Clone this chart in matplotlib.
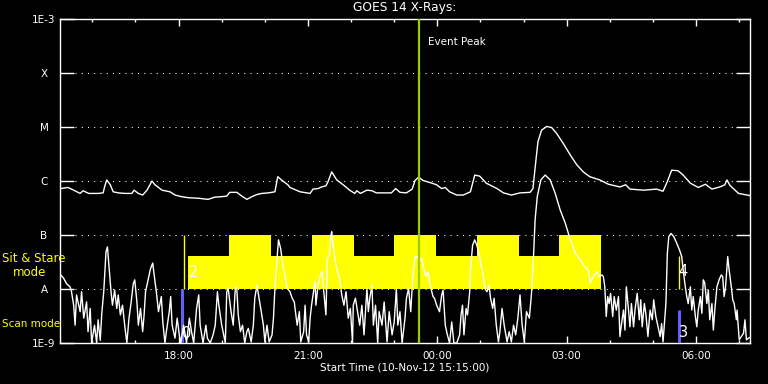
import numpy as np
import matplotlib.pyplot as plt
from matplotlib.ticker import NullLocator

# time axis: minutes after start (10-Nov-12 15:15:00); flux values as log10(W/m^2)
long_t = [1, 11, 16, 28, 32, 40, 53, 60, 62, 65,
          70, 74, 81, 91, 100, 103, 109, 115, 121, 128,
          132, 142, 153, 160, 169, 179, 193, 206, 215, 225,
          232, 236, 246, 253, 260, 267, 274, 281, 290, 299,
          303, 308, 317, 320, 334, 348, 352, 359, 364, 370,
          373, 378, 385, 394, 403, 410, 413, 418, 427, 434,
          440, 450, 461, 467, 473, 482, 490, 494, 499, 505,
          515, 524, 531, 536, 542, 552, 561, 571, 577, 584,
          593, 608, 617, 628, 640, 654, 658, 661, 665, 670,
          677, 684, 691, 700, 710, 719, 728, 737, 751, 763,
          779, 787, 793, 812, 830, 839, 845, 851, 860, 867,
          877, 888, 898, 907, 918, 925, 928, 932, 944, 960]
long_f = [-6.14, -6.12, -6.15, -6.23, -6.18, -6.23, -6.23, -6.22, -6.11, -5.98,
          -6.07, -6.20, -6.22, -6.23, -6.23, -6.17, -6.23, -6.26, -6.17, -6.00,
          -6.07, -6.17, -6.20, -6.26, -6.29, -6.31, -6.32, -6.34, -6.30, -6.29,
          -6.28, -6.21, -6.21, -6.28, -6.34, -6.29, -6.25, -6.23, -6.22, -6.20,
          -5.92, -5.98, -6.07, -6.12, -6.20, -6.23, -6.15, -6.14, -6.11, -6.09,
          -6.01, -5.83, -5.98, -6.07, -6.17, -6.23, -6.18, -6.23, -6.17, -6.18,
          -6.22, -6.22, -6.22, -6.14, -6.21, -6.22, -6.15, -5.99, -5.93, -5.99,
          -6.03, -6.07, -6.14, -6.12, -6.20, -6.26, -6.26, -6.20, -5.89, -5.91,
          -6.04, -6.14, -6.22, -6.26, -6.22, -6.21, -6.14, -5.76, -5.27, -5.06,
          -4.99, -5.01, -5.12, -5.30, -5.52, -5.70, -5.83, -5.92, -5.98, -6.06,
          -6.11, -6.07, -6.15, -6.17, -6.15, -6.19, -6.01, -5.80, -5.81, -5.89,
          -6.04, -6.12, -6.06, -6.15, -6.11, -6.07, -5.98, -6.08, -6.23, -6.27]

short_t = [1, 5, 9, 14, 16, 19, 21, 23, 28, 30,
           33, 37, 39, 42, 44, 48, 51, 53, 56, 58,
           61, 64, 66, 68, 71, 73, 76, 79, 81, 84,
           87, 90, 93, 96, 99, 102, 104, 107, 109, 112,
           115, 117, 119, 123, 126, 129, 131, 134, 137, 141,
           143, 146, 148, 152, 154, 156, 160, 163, 166, 168,
           172, 176, 180, 183, 186, 190, 193, 195, 199, 203,
           205, 209, 213, 216, 219, 221, 225, 230, 232, 234,
           238, 241, 244, 246, 248, 251, 254, 257, 260, 262,
           266, 269, 271, 274, 277, 280, 283, 285, 288, 291,
           295, 297, 299, 302, 304, 307, 310, 313, 316, 320,
           323, 326, 327, 330, 333, 335, 339, 341, 343, 346,
           348, 350, 353, 355, 356, 359, 363, 365, 367, 370,
           372, 375, 377, 378, 380, 383, 386, 389, 392, 395,
           398, 401, 404, 407, 408, 411, 414, 417, 420, 423,
           427, 429, 431, 434, 436, 439, 442, 444, 448, 451,
           455, 458, 462, 465, 468, 470, 473, 476, 480, 482,
           485, 488, 491, 494, 497, 500, 503, 506, 509, 512,
           515, 519, 521, 524, 528, 531, 533, 536, 539, 542,
           545, 548, 552, 556, 558, 560, 562, 565, 567, 570,
           571, 574, 577, 580, 583, 586, 589, 591, 594, 597,
           599, 602, 604, 607, 610, 612, 615, 618, 622, 625,
           628, 631, 634, 637, 640, 643, 646, 649, 653, 656,
           659, 661, 664, 669, 675, 682, 689, 696, 703, 710,
           717, 724, 730, 735, 738, 742, 747, 750, 754, 756,
           758, 760, 762, 764, 766, 769, 771, 774, 777, 779,
           782, 784, 786, 788, 791, 793, 795, 798, 800, 803,
           806, 808, 810, 813, 815, 818, 821, 824, 826, 829,
           833, 835, 837, 839, 843, 845, 847, 850, 854, 858,
           862, 865, 867, 870, 872, 874, 877, 879, 881, 884,
           886, 888, 891, 893, 895, 897, 900, 902, 904, 907,
           909, 911, 914, 917, 920, 922, 924, 926, 929, 931,
           934, 936, 938, 941, 942, 945, 948, 951, 953, 955,
           959]
short_f = [-7.74, -7.80, -7.90, -7.96, -8.05, -8.30, -8.67, -8.11, -8.42, -8.05,
           -8.54, -8.24, -8.79, -8.36, -9.00, -8.67, -9.00, -8.57, -8.95, -8.48,
           -8.02, -7.31, -7.22, -7.56, -8.05, -8.30, -8.02, -8.36, -8.11, -8.48,
           -8.30, -8.67, -9.00, -8.54, -8.24, -7.90, -7.83, -8.24, -8.67, -8.36,
           -8.79, -8.48, -8.05, -7.80, -7.62, -7.52, -7.74, -8.05, -8.42, -8.14,
           -8.61, -9.00, -8.79, -8.42, -8.14, -8.67, -8.91, -8.54, -8.85, -9.00,
           -8.67, -9.00, -8.54, -8.79, -9.00, -8.36, -8.11, -8.67, -9.00, -8.67,
           -8.91, -9.00, -8.85, -8.67, -8.05, -8.30, -8.67, -9.00, -8.05, -7.99,
           -8.42, -8.67, -7.96, -7.99, -8.48, -8.79, -8.67, -9.00, -8.79, -8.73,
           -8.98, -8.67, -8.17, -7.93, -8.17, -8.42, -8.67, -8.98, -8.67, -8.98,
           -8.85, -8.54, -7.99, -7.43, -7.09, -7.25, -7.56, -7.74, -7.99, -8.05,
           -8.17, -8.24, -8.36, -8.67, -8.42, -8.98, -8.79, -8.30, -8.85, -8.98,
           -8.54, -8.30, -8.02, -7.86, -8.30, -7.93, -7.71, -7.68, -8.05, -8.48,
           -7.43, -7.37, -7.00, -6.94, -7.19, -7.49, -7.68, -7.80, -8.11, -8.30,
           -8.05, -8.54, -8.36, -9.00, -8.30, -8.17, -8.42, -8.67, -8.30, -8.85,
           -7.99, -8.42, -8.17, -7.93, -8.67, -8.30, -9.00, -8.42, -8.67, -8.24,
           -8.98, -8.42, -8.85, -8.61, -7.99, -8.67, -8.42, -9.00, -8.54, -8.17,
           -7.99, -8.42, -7.74, -7.40, -7.40, -7.49, -7.43, -7.62, -7.77, -7.68,
           -7.93, -8.14, -8.17, -8.30, -8.42, -8.11, -8.02, -8.67, -8.85, -9.00,
           -8.61, -9.00, -9.00, -8.85, -8.48, -8.30, -8.85, -8.36, -8.48, -8.05,
           -7.68, -7.19, -7.09, -7.19, -7.37, -7.56, -7.77, -7.99, -8.05, -7.93,
           -8.17, -8.36, -8.17, -8.67, -8.98, -8.79, -8.36, -8.67, -8.98, -8.79,
           -8.98, -8.67, -8.85, -8.54, -8.11, -8.67, -8.98, -8.42, -8.54, -8.08,
           -7.34, -6.72, -6.29, -5.98, -5.89, -5.98, -6.23, -6.54, -6.78, -7.09,
           -7.34, -7.46, -7.59, -7.65, -7.89, -7.77, -7.68, -7.77, -7.74, -7.77,
           -7.96, -8.51, -8.14, -8.27, -8.08, -8.51, -8.14, -8.39, -8.14, -8.88,
           -8.57, -8.39, -8.76, -7.96, -8.39, -8.70, -8.27, -8.70, -8.39, -8.08,
           -8.57, -8.20, -8.70, -8.27, -8.45, -8.88, -8.39, -8.57, -8.20, -8.51,
           -8.76, -8.88, -8.64, -8.98, -8.27, -7.34, -7.03, -6.97, -7.03, -7.15,
           -7.28, -7.40, -7.65, -7.96, -8.14, -8.27, -7.96, -8.39, -8.14, -8.51,
           -8.70, -8.39, -8.14, -8.45, -7.83, -7.89, -8.27, -8.02, -8.57, -8.27,
           -8.76, -8.39, -7.96, -7.83, -7.74, -7.77, -8.14, -7.96, -7.40, -7.65,
           -7.96, -8.20, -8.27, -8.57, -8.39, -8.94, -8.88, -8.82, -8.57, -8.94,
           -8.90]

# observing mode timeline (Sit & Stare blocks)
mode_t = [178, 235, 293, 351, 409, 465, 523, 580, 638, 694, 753]
mode_lvl = [-7.38, -7.0, -7.38, -7.0, -7.38, -7.0, -7.38, -7.0, -7.38, -7.0]

scan_t = [170.4, 860.8]
scan_top = [-8.0, -8.39]
stare_t = [172.9, 861.6]
stare_top = [-7.0, -7.38]
mark_lab = ['0', '2', '3', '4']
mark_t = [176.7, 186, 867.5, 867]
mark_f = [-8.82, -7.69, -8.81, -7.67]

peak_t = 499.5

tick_min = [165, 345, 525, 705, 885]
tick_lab = ['18:00', '21:00', '00:00', '03:00', '06:00']
hour_min = list(range(45, 960, 60))

lvl_y = [1e-9, 1e-8, 1e-7, 1e-6, 1e-5, 1e-4, 1e-3]
lvl_lab = ['1E-9', 'A', 'B', 'C', 'M', 'X', '1E-3']

W, H = 768, 384
fig = plt.figure(figsize=(W / 100, H / 100), dpi=100, facecolor='black')
ax = fig.add_axes([60 / W, 41 / H, 690 / W, 324 / H])
ax.set_facecolor('black')
ax.set_yscale('log')
ax.set_xlim(0, 960)
ax.set_ylim(1e-9, 1e-3)

for s in ax.spines.values():
    s.set_color('white')
    s.set_linewidth(1.0)

# dotted class levels
for v in lvl_y[1:-1]:
    ax.axhline(v, xmin=15 / 690, xmax=1 - 14 / 690, color='white',
               lw=0.75, linestyle=(0, (1, 5)), zorder=1)

# yellow mode blocks
lv = 10 ** np.array(mode_lvl + [mode_lvl[-1]])
ax.fill_between(mode_t, 1e-8, lv, step='post', color='#ffff00', lw=0, zorder=2)

ax.vlines(scan_t, 1e-9, 10 ** np.array(scan_top), color='#6060ff', lw=2.2, zorder=3)
ax.vlines(stare_t, 1e-8, 10 ** np.array(stare_top), color='#ffff00', lw=1.0, zorder=3)

ax.plot(long_t, 10 ** np.array(long_f), color='white', lw=1.0, zorder=4)
ax.plot(short_t, 10 ** np.array(short_f), color='white', lw=1.0, zorder=4)

for lab, t, f in zip(mark_lab, mark_t, mark_f):
    ax.text(t, 10 ** f, lab, color='white', fontsize=10.5, ha='center', va='center', zorder=5)

ax.axvline(peak_t, color='#9acd00', lw=1.6, zorder=6)
ax.text(512, 10 ** -3.43, 'Event Peak', color='white', fontsize=7.5, ha='left', va='center')

# ticks
ax.set_xticks(tick_min, tick_lab)
ax.set_xticks(hour_min, minor=True)
ax.tick_params(axis='x', which='both', direction='in', top=True, bottom=True,
               color='white', labelcolor='white', labelsize=7.5, width=1)
ax.tick_params(axis='x', which='major', length=5, pad=6)
ax.tick_params(axis='x', which='minor', length=2.5)

ax.set_yticks(lvl_y, lvl_lab)
ax.yaxis.set_minor_locator(NullLocator())
ax.tick_params(axis='y', which='major', direction='in', left=True, right=True,
               length=10, width=1, color='white', labelcolor='white',
               labelsize=7.5, pad=11.5)
for lb in ax.get_yticklabels():
    lb.set_ha('center')

fig.text(405 / W, 1 - 8 / H, 'GOES 14 X-Rays:', color='white', fontsize=8.8,
         ha='center', va='center')
fig.text(405 / W, 1 - 368 / H, 'Start Time (10-Nov-12 15:15:00)', color='white',
         fontsize=7.5, ha='center', va='center')
fig.text(2 / W, 1 - 258 / H, 'Sit & Stare', color='#ffff00', fontsize=8.5,
         ha='left', va='center')
fig.text(13 / W, 1 - 272 / H, 'mode', color='#ffff00', fontsize=8.5,
         ha='left', va='center')
fig.text(2 / W, 1 - 324 / H, 'Scan mode', color='#ffff00', fontsize=7.5,
         ha='left', va='center')

fig.savefig('out.png', dpi=100, facecolor='black')
